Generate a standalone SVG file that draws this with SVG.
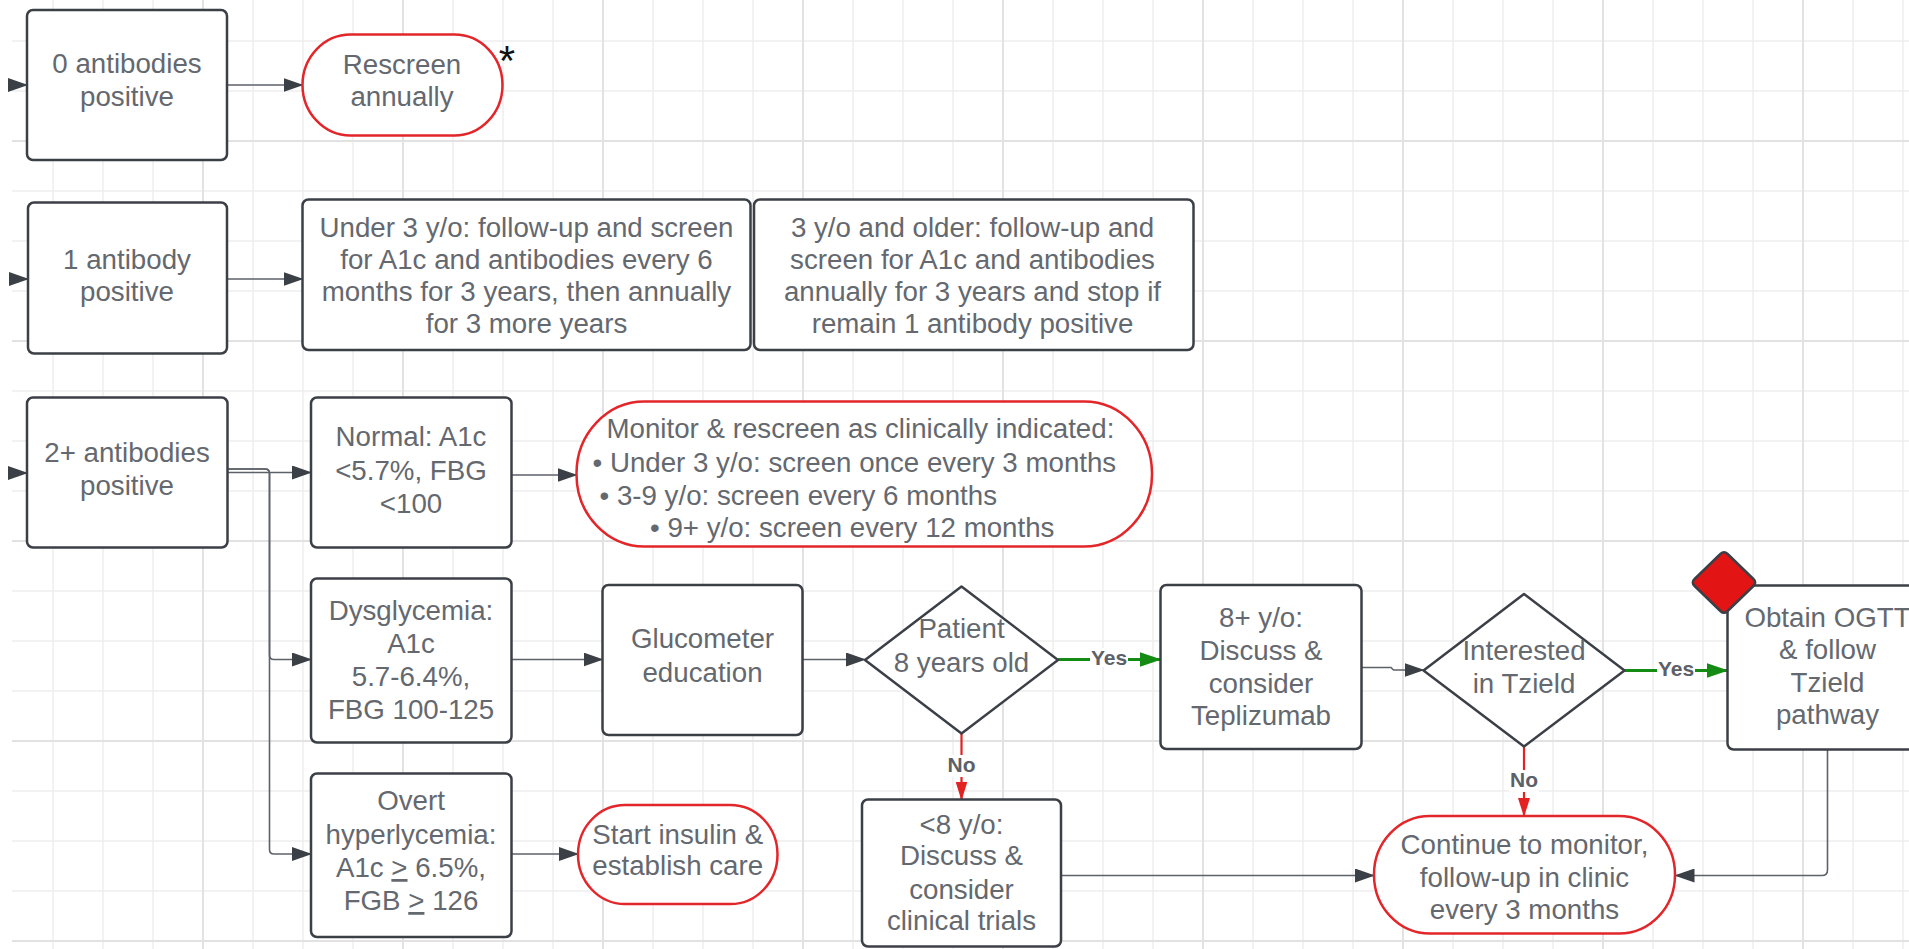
<svg xmlns="http://www.w3.org/2000/svg" width="1909" height="949" viewBox="0 0 1909 949">
<style>
.box{fill:#fff;stroke:#3b3f46;stroke-width:2.5}
.term{fill:#fff;stroke:#e3262a;stroke-width:2.5}
.dia{fill:#fff;stroke:#3b3f46;stroke-width:2.5;stroke-linejoin:round}
.t{font-family:"Liberation Sans",Arial,sans-serif;font-size:27.7px;fill:#64686f;text-anchor:middle}
.tl{text-anchor:start}
.c{fill:none;stroke:#5d626a;stroke-width:1.6}
.cg{fill:none;stroke:#148c14;stroke-width:3}
.cr{fill:none;stroke:#e32222;stroke-width:2.2}
.lbl{font-family:"Liberation Sans",Arial,sans-serif;font-size:21px;font-weight:bold;fill:#5c6068;text-anchor:middle}
.u{text-decoration:underline}
</style>
<defs>
<pattern id="grid" patternUnits="userSpaceOnUse" x="-22" y="16" width="200" height="200">
<path d="M75 0V200M125 0V200M175 0V200M0 25H200M0 75H200M0 175H200" stroke="#eeeeee" stroke-width="1.5"/>
<path d="M25 0V200M0 125H200" stroke="#e2e2e2" stroke-width="2"/>
</pattern>
<marker id="ah" markerUnits="userSpaceOnUse" markerWidth="20" markerHeight="14" refX="19" refY="7" orient="auto" viewBox="0 0 20 14"><path d="M0 0L20 7L0 14z" fill="#3b3f46"/></marker>
<marker id="ahg" markerUnits="userSpaceOnUse" markerWidth="22" markerHeight="15" refX="21" refY="7.5" orient="auto" viewBox="0 0 22 15"><path d="M0 0L22 7.5L0 15z" fill="#148c14"/></marker>
<marker id="ahr" markerUnits="userSpaceOnUse" markerWidth="19" markerHeight="12" refX="18" refY="6" orient="auto" viewBox="0 0 19 12"><path d="M0 0L19 6L0 12z" fill="#e32222"/></marker>
</defs>
<rect x="0" y="0" width="1909" height="949" fill="#fff"/>
<rect x="12" y="0" width="1897" height="949" fill="url(#grid)"/>

<g id="connectors">
<path class="c" d="M12 85H27" marker-end="url(#ah)"/>
<path class="c" d="M12 279H28" marker-end="url(#ah)"/>
<path class="c" d="M12 473H27" marker-end="url(#ah)"/>
<path class="c" d="M227 85H302.5" marker-end="url(#ah)"/>
<path class="c" d="M227 279H302.5" marker-end="url(#ah)"/>
<path class="c" d="M227.5 472.5H311" marker-end="url(#ah)"/>
<path class="c" d="M227.5 469H265Q269.5 469 269.5 473.5V655Q269.5 659.5 274 659.5H311" marker-end="url(#ah)"/>
<path class="c" d="M227.5 469H265Q269.5 469 269.5 473.5V849.5Q269.5 854 274 854H311" marker-end="url(#ah)"/>
<path class="c" d="M511.5 475H576.5" marker-end="url(#ah)"/>
<path class="c" d="M511.5 659.5H602.5" marker-end="url(#ah)"/>
<path class="c" d="M511.5 854H578" marker-end="url(#ah)"/>
<path class="c" d="M802.5 659.5H865" marker-end="url(#ah)"/>
<path class="cg" d="M1058 659.5H1160.5" marker-end="url(#ahg)"/>
<rect x="1090" y="648" width="38" height="19" fill="#fff"/>
<text class="lbl" x="1109" y="665">Yes</text>
<path class="cr" d="M961.5 733.5V799.5" marker-end="url(#ahr)"/>
<rect x="947" y="755" width="29" height="22" fill="#fff"/>
<text class="lbl" x="961.5" y="771.5">No</text>
<path class="c" d="M1361.5 667.5H1391L1393.5 670H1423.5" marker-end="url(#ah)"/>
<path class="cg" d="M1624.5 670.5H1727.5" marker-end="url(#ahg)"/>
<rect x="1657" y="659" width="38" height="19" fill="#fff"/>
<text class="lbl" x="1676" y="675.5">Yes</text>
<path class="cr" d="M1524 746.5V816" marker-end="url(#ahr)"/>
<rect x="1509.5" y="770" width="29" height="22" fill="#fff"/>
<text class="lbl" x="1524" y="787">No</text>
<path class="c" d="M1061 875.5H1374" marker-end="url(#ah)"/>
<path class="c" d="M1827.5 749.5V870Q1827.5 875.5 1822 875.5H1675.5" marker-end="url(#ah)"/>
</g>

<g id="n-zero">
<rect class="box" x="27" y="10" width="200" height="150" rx="6"/>
<text class="t"><tspan x="127" y="73">0 antibodies</tspan><tspan x="127" y="106">positive</tspan></text>
</g>
<g id="n-rescreen">
<rect class="term" x="302.5" y="34.5" width="200" height="101" rx="48" ry="50.5"/>
<text class="t"><tspan x="402" y="74">Rescreen</tspan><tspan x="402" y="106">annually</tspan></text>
<text x="507" y="75" font-family="Liberation Sans, Arial, sans-serif" font-size="42" fill="#111" text-anchor="middle">*</text>
</g>
<g id="n-one">
<rect class="box" x="28" y="202.5" width="199" height="151" rx="6"/>
<text class="t"><tspan x="127" y="268.5">1 antibody</tspan><tspan x="127" y="301">positive</tspan></text>
</g>
<g id="n-under3">
<rect class="box" x="302.5" y="199.5" width="448" height="150.5" rx="6"/>
<text class="t"><tspan x="526.5" y="237">Under 3 y/o: follow-up and screen</tspan><tspan x="526.5" y="269">for A1c and antibodies every 6</tspan><tspan x="526.5" y="301">months for 3 years, then annually</tspan><tspan x="526.5" y="333">for 3 more years</tspan></text>
</g>
<g id="n-older3">
<rect class="box" x="754" y="199.5" width="439.5" height="150.5" rx="6"/>
<text class="t"><tspan x="972.5" y="237">3 y/o and older: follow-up and</tspan><tspan x="972.5" y="269">screen for A1c and antibodies</tspan><tspan x="972.5" y="301">annually for 3 years and stop if</tspan><tspan x="972.5" y="333">remain 1 antibody positive</tspan></text>
</g>
<g id="n-two">
<rect class="box" x="27" y="397.5" width="200.5" height="150" rx="6"/>
<text class="t"><tspan x="127" y="462">2+ antibodies</tspan><tspan x="127" y="495">positive</tspan></text>
</g>
<g id="n-normal">
<rect class="box" x="311" y="397.5" width="200.5" height="150" rx="6"/>
<text class="t"><tspan x="411" y="446">Normal: A1c</tspan><tspan x="411" y="479.5">&lt;5.7%, FBG</tspan><tspan x="411" y="513">&lt;100</tspan></text>
</g>
<g id="n-monitor">
<rect class="term" x="576.5" y="401.5" width="575.5" height="145" rx="68" ry="72"/>
<text class="t tl"><tspan x="606.5" y="438">Monitor &amp; rescreen as clinically indicated:</tspan><tspan x="592.5" y="471.5">• Under 3 y/o: screen once every 3 months</tspan><tspan x="599.5" y="505">• 3-9 y/o: screen every 6 months</tspan><tspan x="650" y="537">• 9+ y/o: screen every 12 months</tspan></text>
</g>
<g id="n-dysg">
<rect class="box" x="311" y="578.5" width="200.5" height="164" rx="6"/>
<text class="t"><tspan x="411" y="620">Dysglycemia:</tspan><tspan x="411" y="653">A1c</tspan><tspan x="411" y="686">5.7-6.4%,</tspan><tspan x="411" y="719">FBG 100-125</tspan></text>
</g>
<g id="n-gluco">
<rect class="box" x="602.5" y="585" width="200" height="150" rx="6"/>
<text class="t"><tspan x="702.5" y="648">Glucometer</tspan><tspan x="702.5" y="681.5">education</tspan></text>
</g>
<g id="n-patient">
<polygon class="dia" points="961.5,586.5 1058,660 961.5,733.5 865,660"/>
<text class="t"><tspan x="961.5" y="638">Patient</tspan><tspan x="961.5" y="671.5">8 years old</tspan></text>
</g>
<g id="n-tepli">
<rect class="box" x="1160.5" y="585" width="201" height="164" rx="6"/>
<text class="t"><tspan x="1261" y="627">8+ y/o:</tspan><tspan x="1261" y="659.5">Discuss &amp;</tspan><tspan x="1261" y="693">consider</tspan><tspan x="1261" y="725">Teplizumab</tspan></text>
</g>
<g id="n-interested">
<polygon class="dia" points="1524,594 1624.5,670.5 1524,746.5 1423.5,670.5"/>
<text class="t"><tspan x="1524" y="660">Interested</tspan><tspan x="1524" y="693">in Tzield</tspan></text>
</g>
<g id="n-ogtt">
<rect class="box" x="1727.5" y="585.5" width="220" height="164" rx="6"/>
<text class="t"><tspan x="1827.5" y="626.5">Obtain OGTT</tspan><tspan x="1827.5" y="658.5">&amp; follow</tspan><tspan x="1827.5" y="691.5">Tzield</tspan><tspan x="1827.5" y="723.5">pathway</tspan></text>
<path d="M1720.4 554Q1724 550.5 1727.6 554L1753.4 579Q1757 582.5 1753.4 586L1727.6 611Q1724 614.5 1720.4 611L1694.6 586Q1691 582.5 1694.6 579Z" fill="#e31414" stroke="#3b3f46" stroke-width="2.5"/>
</g>
<g id="n-overt">
<rect class="box" x="311" y="773.5" width="200.5" height="163.5" rx="6"/>
<text class="t"><tspan x="411" y="810">Overt</tspan><tspan x="411" y="843.5">hyperlycemia:</tspan><tspan x="411" y="877">A1c <tspan class="u">&gt;</tspan> 6.5%,</tspan><tspan x="411" y="910">FGB <tspan class="u">&gt;</tspan> 126</tspan></text>
</g>
<g id="n-insulin">
<rect class="term" x="578" y="805" width="199.5" height="99" rx="47" ry="49.5"/>
<text class="t"><tspan x="677.7" y="843.5">Start insulin &amp;</tspan><tspan x="677.7" y="875">establish care</tspan></text>
</g>
<g id="n-lt8">
<rect class="box" x="862" y="799.5" width="199" height="147" rx="6"/>
<text class="t"><tspan x="961.5" y="833.5">&lt;8 y/o:</tspan><tspan x="961.5" y="865">Discuss &amp;</tspan><tspan x="961.5" y="898.5">consider</tspan><tspan x="961.5" y="930">clinical trials</tspan></text>
</g>
<g id="n-continue">
<rect class="term" x="1374" y="816" width="301" height="117.5" rx="56" ry="58.5"/>
<text class="t"><tspan x="1524.5" y="853.5">Continue to monitor,</tspan><tspan x="1524.5" y="886.5">follow-up in clinic</tspan><tspan x="1524.5" y="918.5">every 3 months</tspan></text>
</g>
</svg>
